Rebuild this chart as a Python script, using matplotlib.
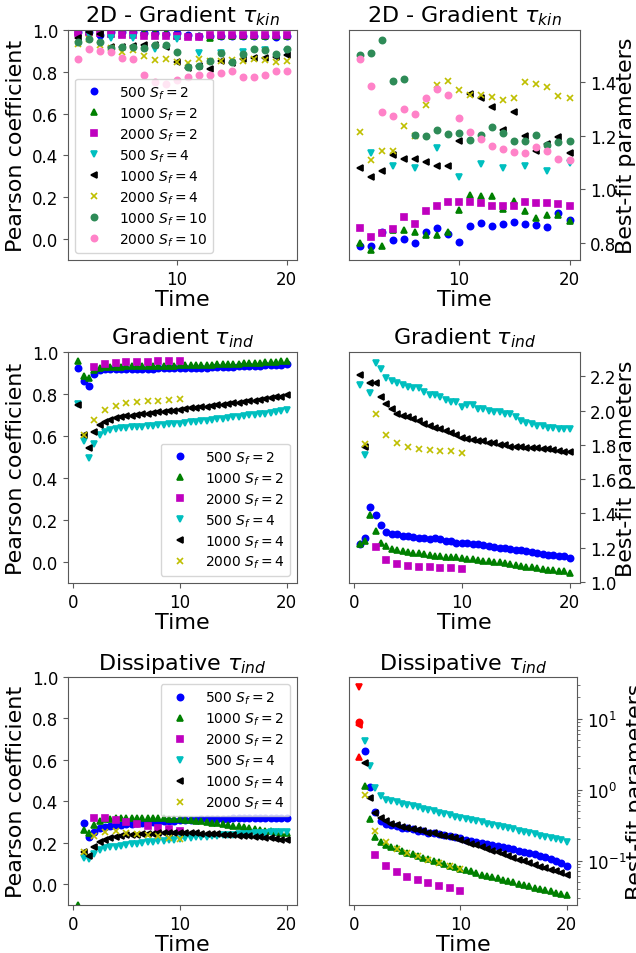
import matplotlib.pyplot as plt
import numpy as np
from matplotlib.ticker import MultipleLocator

# times
t_kin = np.arange(1, 21)
t_kin_even = np.arange(2, 21, 2)
t_ind = np.arange(0.5, 20.5, 0.5)
t_2000 = np.arange(1, 11)
t_2000_sq = np.arange(2, 11)

# ---- 2D - Gradient tau_kin : Pearson ----
kin_p_500_2 = [0.99, 0.99, 0.975, 0.99, 0.99, 0.99, 0.985, 0.985, 0.98, 0.985,
               0.975, 0.97, 0.97, 0.97, 0.97, 0.97, 0.97, 0.97, 0.965, 0.97]
kin_p_1000_2 = [0.99, 0.99, 0.99, 0.98, 0.98, 0.985, 0.985, 0.985, 0.985, 0.97,
                0.97, 0.97, 0.96, 0.97, 0.97, 0.97, 0.97, 0.97, 0.97, 0.97]
kin_p_2000_2 = [0.985, 0.99, 0.985, 0.98, 0.975, 0.975, 0.97, 0.97, 0.97, 0.97,
                0.965, 0.965, 0.975, 0.975, 0.975, 0.975, 0.975, 0.975, 0.975, 0.975]
kin_p_500_4 = [0.98, 0.96, 0.96, 0.91, 0.955, 0.89, 0.89, 0.895, 0.905, 0.895]
kin_p_1000_4 = [0.96, 0.99, 0.98, 0.92, 0.92, 0.925, 0.93, 0.93, 0.92, 0.845,
                0.82, 0.83, 0.815, 0.85, 0.84, 0.86, 0.865, 0.865, 0.87, 0.88]
kin_p_2000_4 = [0.935, 0.955, 0.93, 0.915, 0.895, 0.905, 0.875, 0.855, 0.86, 0.845,
                0.84, 0.86, 0.85, 0.85, 0.855, 0.85, 0.86, 0.855, 0.845, 0.85]
kin_p_1000_10 = [0.945, 0.955, 0.945, 0.915, 0.92, 0.92, 0.915, 0.93, 0.93, 0.895,
                 0.825, 0.83, 0.85, 0.89, 0.845, 0.885, 0.91, 0.905, 0.885, 0.91]
kin_p_2000_10 = [0.86, 0.91, 0.9, 0.895, 0.865, 0.86, 0.785, 0.75, 0.74, 0.76,
                 0.775, 0.785, 0.785, 0.795, 0.805, 0.775, 0.775, 0.785, 0.805, 0.805]

# ---- 2D - Gradient tau_kin : best-fit ----
kin_f_500_2 = [0.788, 0.788, 0.84, 0.812, 0.816, 0.801, 0.841, 0.855, 0.834, 0.805,
               0.865, 0.876, 0.865, 0.872, 0.877, 0.871, 0.867, 0.861, 0.913, 0.886]
kin_f_1000_2 = [0.802, 0.776, 0.79, 0.85, 0.847, 0.841, 0.832, 0.831, 0.841, 0.924,
                0.978, 0.974, 0.974, 0.928, 0.957, 0.919, 0.894, 0.906, 0.906, 0.882]
kin_f_2000_2 = [0.856, 0.821, 0.837, 0.851, 0.896, 0.873, 0.92, 0.94, 0.952, 0.952,
                0.952, 0.948, 0.937, 0.937, 0.937, 0.952, 0.949, 0.949, 0.944, 0.938]
kin_f_500_4 = [1.135, 1.089, 1.08, 1.154, 1.048, 1.096, 1.08, 1.086, 1.067, 1.098]
kin_f_1000_4 = [1.081, 1.048, 1.068, 1.13, 1.114, 1.112, 1.104, 1.089, 1.089, 1.18,
                1.357, 1.342, 1.306, 1.22, 1.288, 1.198, 1.142, 1.17, 1.195, 1.137]
kin_f_2000_4 = [1.214, 1.11, 1.143, 1.145, 1.235, 1.2, 1.316, 1.388, 1.405, 1.369,
                1.353, 1.35, 1.343, 1.335, 1.342, 1.402, 1.391, 1.381, 1.348, 1.342]
kin_f_1000_10 = [1.499, 1.509, 1.555, 1.404, 1.41, 1.204, 1.2, 1.222, 1.207, 1.21,
                 1.185, 1.204, 1.232, 1.211, 1.18, 1.18, 1.204, 1.164, 1.176, 1.18]
kin_f_2000_10 = [1.487, 1.385, 1.289, 1.273, 1.299, 1.281, 1.339, 1.373, 1.35, 1.266,
                 1.214, 1.189, 1.163, 1.149, 1.14, 1.135, 1.158, 1.142, 1.112, 1.108]

# ---- Gradient tau_ind : Pearson ----
ind_p_500_2 = [0.925, 0.864, 0.839, 0.893, 0.914, 0.917, 0.918, 0.918, 0.919, 0.919,
               0.92, 0.92, 0.92, 0.921, 0.921, 0.922, 0.922, 0.923, 0.923, 0.924,
               0.924, 0.925, 0.925, 0.926, 0.926, 0.927, 0.928, 0.928, 0.929, 0.930,
               0.931, 0.932, 0.933, 0.934, 0.935, 0.936, 0.937, 0.938, 0.939, 0.941]
ind_p_1000_2 = [0.957, 0.888, 0.874, 0.912, 0.925, 0.928, 0.929, 0.93, 0.93, 0.931,
                0.931, 0.932, 0.932, 0.933, 0.933, 0.934, 0.934, 0.935, 0.935, 0.936,
                0.936, 0.937, 0.938, 0.938, 0.939, 0.940, 0.941, 0.942, 0.943, 0.944,
                0.945, 0.946, 0.947, 0.948, 0.949, 0.950, 0.952, 0.954, 0.956, 0.958]
ind_p_2000_2 = [0.928, 0.944, 0.949, 0.954, 0.954, 0.954, 0.957, 0.957, 0.957]
ind_p_500_4 = [0.753, 0.577, 0.494, 0.561, 0.603, 0.619, 0.627, 0.633, 0.636, 0.639,
               0.641, 0.643, 0.645, 0.647, 0.649, 0.651, 0.653, 0.655, 0.657, 0.659,
               0.662, 0.665, 0.667, 0.670, 0.673, 0.676, 0.679, 0.683, 0.686, 0.69,
               0.692, 0.695, 0.698, 0.701, 0.704, 0.707, 0.710, 0.713, 0.717, 0.723]
ind_p_1000_4 = [0.748, 0.606, 0.542, 0.617, 0.654, 0.668, 0.678, 0.684, 0.689, 0.693,
                0.697, 0.700, 0.703, 0.706, 0.709, 0.712, 0.715, 0.718, 0.721, 0.725,
                0.728, 0.731, 0.734, 0.737, 0.740, 0.743, 0.746, 0.749, 0.752, 0.755,
                0.759, 0.762, 0.765, 0.769, 0.772, 0.776, 0.780, 0.784, 0.788, 0.793]
ind_p_2000_4 = [0.606, 0.675, 0.726, 0.745, 0.756, 0.761, 0.766, 0.769, 0.770, 0.778]

# ---- Gradient tau_ind : best-fit ----
ind_f_500_2 = [1.22, 1.26, 1.44, 1.39, 1.33, 1.29, 1.28, 1.28, 1.27, 1.27,
               1.265, 1.26, 1.26, 1.25, 1.255, 1.25, 1.24, 1.24, 1.23, 1.23,
               1.23, 1.225, 1.22, 1.215, 1.21, 1.205, 1.20, 1.20, 1.195, 1.19,
               1.185, 1.18, 1.175, 1.17, 1.165, 1.16, 1.16, 1.155, 1.15, 1.14]
ind_f_1000_2 = [1.22, 1.24, 1.39, 1.30, 1.23, 1.21, 1.195, 1.185, 1.18, 1.175,
                1.17, 1.167, 1.163, 1.156, 1.152, 1.15, 1.148, 1.146, 1.144, 1.14,
                1.136, 1.132, 1.128, 1.125, 1.121, 1.119, 1.115, 1.111, 1.107, 1.101,
                1.095, 1.089, 1.086, 1.08, 1.074, 1.07, 1.068, 1.066, 1.062, 1.056]
ind_f_2000_2 = [1.202, 1.13, 1.107, 1.095, 1.089, 1.086, 1.082, 1.08, 1.076]
ind_f_500_4 = [2.15, 1.74, 2.10, 2.28, 2.24, 2.19, 2.17, 2.16, 2.15, 2.14,
               2.13, 2.13, 2.11, 2.09, 2.09, 2.08, 2.06, 2.05, 2.05, 2.02,
               2.03, 2.03, 2.01, 2.01, 2.00, 1.99, 1.99, 1.98, 1.98, 1.96,
               1.94, 1.93, 1.92, 1.91, 1.91, 1.90, 1.90, 1.89, 1.89, 1.89]
ind_f_1000_4 = [2.21, 1.79, 2.16, 2.16, 2.08, 2.04, 2.01, 1.98, 1.97, 1.96,
                1.95, 1.94, 1.92, 1.91, 1.90, 1.89, 1.88, 1.87, 1.86, 1.84,
                1.835, 1.83, 1.825, 1.82, 1.81, 1.81, 1.80, 1.80, 1.79, 1.79,
                1.785, 1.78, 1.78, 1.78, 1.775, 1.775, 1.77, 1.765, 1.76, 1.76]
ind_f_2000_4 = [1.805, 1.977, 1.856, 1.813, 1.788, 1.776, 1.768, 1.763, 1.763, 1.755]

# ---- Dissipative tau_ind : Pearson ----
dis_p_500_2 = [-0.2, 0.296, 0.227, 0.253, 0.272, 0.278, 0.282, 0.285, 0.288, 0.291,
               0.293, 0.295, 0.297, 0.299, 0.301, 0.302, 0.304, 0.305, 0.306, 0.308,
               0.309, 0.310, 0.311, 0.313, 0.314, 0.315, 0.316, 0.317, 0.317, 0.318,
               0.319, 0.319, 0.320, 0.320, 0.321, 0.321, 0.321, 0.321, 0.322, 0.322]
dis_p_1000_2 = [-0.1, 0.264, 0.245, 0.285, 0.304, 0.314, 0.317, 0.318, 0.319, 0.32,
                0.32, 0.32, 0.32, 0.32, 0.32, 0.319, 0.318, 0.317, 0.316, 0.313,
                0.311, 0.308, 0.306, 0.303, 0.301, 0.298, 0.294, 0.29, 0.287, 0.283,
                0.279, 0.275, 0.27, 0.266, 0.262, 0.259, 0.255, 0.252, 0.249, 0.246]
dis_p_2000_2 = [0.322, 0.32, 0.312, 0.301, 0.293, 0.283, 0.272, 0.266, 0.259]
dis_p_500_4 = [-0.2, 0.128, 0.122, 0.147, 0.165, 0.173, 0.178, 0.182, 0.186, 0.19,
               0.193, 0.196, 0.199, 0.202, 0.205, 0.208, 0.211, 0.213, 0.216, 0.218,
               0.221, 0.223, 0.226, 0.228, 0.23, 0.232, 0.234, 0.236, 0.238, 0.24,
               0.241, 0.243, 0.244, 0.246, 0.247, 0.249, 0.25, 0.251, 0.252, 0.254]
dis_p_1000_4 = [-0.15, 0.154, 0.138, 0.181, 0.205, 0.216, 0.222, 0.229, 0.233, 0.236,
                0.238, 0.24, 0.242, 0.243, 0.244, 0.245, 0.246, 0.246, 0.246, 0.246,
                0.246, 0.245, 0.245, 0.244, 0.243, 0.242, 0.241, 0.24, 0.239, 0.237,
                0.235, 0.233, 0.231, 0.229, 0.226, 0.224, 0.221, 0.218, 0.215, 0.212]
dis_p_2000_4 = [0.154, 0.234, 0.253, 0.256, 0.248, 0.242, 0.237, 0.232, 0.224, 0.218]

# ---- Dissipative tau_ind : best-fit ----
dis_f_500_2 = [8.9, 3.5, 1.08, 0.483, 0.361, 0.332, 0.315, 0.305, 0.292, 0.283,
               0.274, 0.265, 0.257, 0.248, 0.241, 0.233, 0.226, 0.219, 0.212, 0.205,
               0.196, 0.190, 0.184, 0.178, 0.173, 0.165, 0.160, 0.155, 0.149, 0.144,
               0.138, 0.132, 0.128, 0.123, 0.117, 0.112, 0.106, 0.099, 0.091, 0.084]
dis_f_1000_2 = [2.92, 1.14, 0.381, 0.216, 0.184, 0.165, 0.157, 0.149, 0.136, 0.129,
                0.123, 0.115, 0.110, 0.104, 0.099, 0.094, 0.089, 0.084, 0.080, 0.077,
                0.073, 0.070, 0.067, 0.063, 0.060, 0.058, 0.056, 0.053, 0.051, 0.049,
                0.047, 0.045, 0.043, 0.041, 0.039, 0.038, 0.037, 0.035, 0.034, 0.033]
dis_f_2000_2 = [0.12, 0.0833, 0.068, 0.058, 0.0537, 0.0488, 0.0443, 0.0407, 0.0373]
dis_f_500_4 = [27.7, 4.83, 2.16, 1.04, 0.80, 0.725, 0.687, 0.666, 0.631, 0.611,
               0.585, 0.561, 0.537, 0.509, 0.493, 0.472, 0.453, 0.434, 0.415, 0.398,
               0.390, 0.377, 0.361, 0.346, 0.332, 0.321, 0.308, 0.295, 0.286, 0.274,
               0.265, 0.254, 0.243, 0.233, 0.223, 0.214, 0.205, 0.199, 0.192, 0.180]
dis_f_1000_4 = [8.25, 2.36, 0.765, 0.468, 0.40, 0.357, 0.332, 0.315, 0.301, 0.289,
                0.277, 0.268, 0.259, 0.248, 0.241, 0.231, 0.223, 0.214, 0.205, 0.192,
                0.182, 0.173, 0.164, 0.153, 0.146, 0.138, 0.131, 0.123, 0.116, 0.110,
                0.103, 0.098, 0.093, 0.087, 0.082, 0.078, 0.073, 0.070, 0.066, 0.062]
dis_f_2000_4 = [0.851, 0.265, 0.182, 0.146, 0.127, 0.114, 0.102, 0.0908, 0.0824, 0.0749]

# marker styles per run
styles = {
    "500_2": dict(marker="o", color="b", label="500 $S_f=2$"),
    "1000_2": dict(marker="^", color="g", label="1000 $S_f=2$"),
    "2000_2": dict(marker="s", color="m", label="2000 $S_f=2$"),
    "500_4": dict(marker="v", color="c", label="500 $S_f=4$"),
    "1000_4": dict(marker="<", color="k", label="1000 $S_f=4$"),
    "2000_4": dict(marker="x", color="y", label="2000 $S_f=4$"),
    "1000_10": dict(marker="o", color="seagreen", label="1000 $S_f=10$"),
    "2000_10": dict(marker="o", color="#ff82c8", label="2000 $S_f=10$"),
}

W, H = 636.0, 954.0


def box(l, t, r, b):
    return [l / W, 1 - b / H, (r - l) / W, (b - t) / H]


fig = plt.figure(figsize=(6.36, 9.54), dpi=100)


def draw(ax, series, title, right=False, legend_loc=None, red_mask=None):
    for key, x, y, p in series:
        st = styles[key]
        x = np.asarray(x, dtype=float)
        y = np.asarray(y, dtype=float)
        if red_mask is not None and p is not None:
            # points with negative Pearson coefficient drawn in red
            neg = np.asarray(p) < 0
            ax.plot(x[~neg], y[~neg], ls="none", ms=4.5, mew=1.2, **st)
            ax.plot(x[neg], y[neg], ls="none", ms=4.5, mew=1.2,
                    marker=st["marker"], color="r")
        else:
            ax.plot(x, y, ls="none", ms=4.5, mew=1.2, **st)
    ax.set_title(title, fontsize=16)
    ax.set_xlabel("Time", fontsize=16, labelpad=1)
    ax.xaxis.set_major_locator(MultipleLocator(10))
    ax.tick_params(labelsize=12, which="both", color="0.35")
    for sp in ax.spines.values():
        sp.set_edgecolor("0.35")
    if right:
        ax.yaxis.tick_right()
        ax.yaxis.set_label_position("right")
        ax.set_ylabel("Best-fit parameters", fontsize=16, labelpad=0)
    else:
        ax.set_ylabel("Pearson coefficient", fontsize=16)
        ax.set_ylim(-0.1, 1.0)
    if legend_loc:
        ax.legend(loc=legend_loc, fontsize=10, numpoints=1, labelspacing=0.33)


# row 1
ax = fig.add_axes(box(68, 31, 297, 261))
draw(ax, [("500_2", t_kin, kin_p_500_2, None), ("1000_2", t_kin, kin_p_1000_2, None),
          ("2000_2", t_kin, kin_p_2000_2, None), ("500_4", t_kin_even, kin_p_500_4, None),
          ("1000_4", t_kin, kin_p_1000_4, None), ("2000_4", t_kin, kin_p_2000_4, None),
          ("1000_10", t_kin, kin_p_1000_10, None), ("2000_10", t_kin, kin_p_2000_10, None)],
     r"2D - Gradient $\tau_{kin}$", legend_loc="lower left")

ax = fig.add_axes(box(349, 31, 580, 261))
draw(ax, [("500_2", t_kin, kin_f_500_2, None), ("1000_2", t_kin, kin_f_1000_2, None),
          ("2000_2", t_kin, kin_f_2000_2, None), ("500_4", t_kin_even, kin_f_500_4, None),
          ("1000_4", t_kin, kin_f_1000_4, None), ("2000_4", t_kin, kin_f_2000_4, None),
          ("1000_10", t_kin, kin_f_1000_10, None), ("2000_10", t_kin, kin_f_2000_10, None)],
     r"2D - Gradient $\tau_{kin}$", right=True)

# row 2
ax = fig.add_axes(box(68, 353, 297, 584))
draw(ax, [("500_2", t_ind, ind_p_500_2, None), ("1000_2", t_ind, ind_p_1000_2, None),
          ("2000_2", t_2000_sq, ind_p_2000_2, None), ("500_4", t_ind, ind_p_500_4, None),
          ("1000_4", t_ind, ind_p_1000_4, None), ("2000_4", t_2000, ind_p_2000_4, None)],
     r"Gradient $\tau_{ind}$", legend_loc="lower right")

ax = fig.add_axes(box(349, 353, 580, 584))
draw(ax, [("500_2", t_ind, ind_f_500_2, None), ("1000_2", t_ind, ind_f_1000_2, None),
          ("2000_2", t_2000_sq, ind_f_2000_2, None), ("500_4", t_ind, ind_f_500_4, None),
          ("1000_4", t_ind, ind_f_1000_4, None), ("2000_4", t_2000, ind_f_2000_4, None)],
     r"Gradient $\tau_{ind}$", right=True)
ax.yaxis.set_major_locator(MultipleLocator(0.2))

# row 3
ax = fig.add_axes(box(68, 678, 297, 906))
draw(ax, [("500_2", t_ind, dis_p_500_2, None), ("1000_2", t_ind, dis_p_1000_2, None),
          ("2000_2", t_2000_sq, dis_p_2000_2, None), ("500_4", t_ind, dis_p_500_4, None),
          ("1000_4", t_ind, dis_p_1000_4, None), ("2000_4", t_2000, dis_p_2000_4, None)],
     r"Dissipative $\tau_{ind}$", legend_loc="upper right")

ax = fig.add_axes(box(349, 678, 577, 906))
ax.set_yscale("log")
draw(ax, [("500_2", t_ind, dis_f_500_2, dis_p_500_2), ("1000_2", t_ind, dis_f_1000_2, dis_p_1000_2),
          ("2000_2", t_2000_sq, dis_f_2000_2, dis_p_2000_2), ("500_4", t_ind, dis_f_500_4, dis_p_500_4),
          ("1000_4", t_ind, dis_f_1000_4, dis_p_1000_4), ("2000_4", t_2000, dis_f_2000_4, dis_p_2000_4)],
     r"Dissipative $\tau_{ind}$", right=True, red_mask=True)

plt.savefig("out.png", dpi=100)
plt.close()
